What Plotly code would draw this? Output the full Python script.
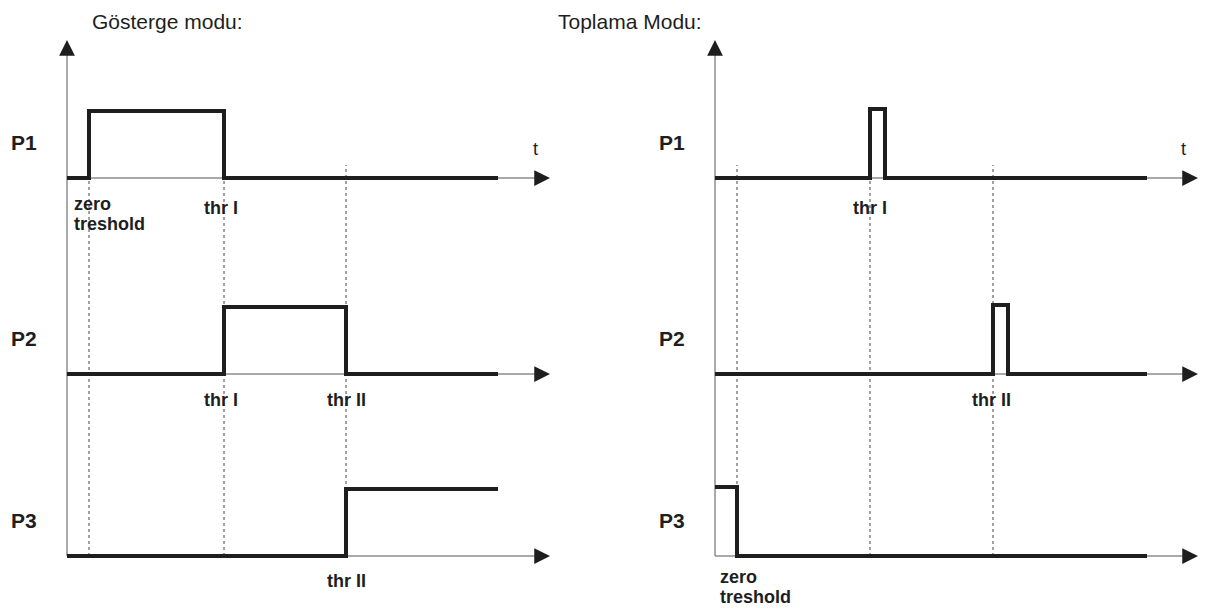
"""
Timing diagram: P1/P2/P3 outputs in two modes (Gösterge / Toplama)
"""
import plotly.graph_objects as go

# channel names, top to bottom
channels = ["P1", "P2", "P3"]

# Gösterge modu: step times (t) and logic levels
left_title = "Gösterge modu:"
left_thresholds = [2.2, 15.7, 27.9]  # zero treshold, thr I, thr II
left_times = {
    "P1": [0, 2.2, 15.7, 43.1],
    "P2": [0, 15.7, 27.9, 43.1],
    "P3": [0, 27.9, 43.1],
}
left_levels = {
    "P1": [0, 1, 0, 0],
    "P2": [0, 1, 0, 0],
    "P3": [0, 1, 1],
}

# Toplama Modu
right_title = "Toplama Modu:"
right_thresholds = [2.2, 15.5, 27.8]
right_times = {
    "P1": [0, 15.5, 17.0, 43.2],
    "P2": [0, 27.8, 29.3, 43.2],
    "P3": [0, 2.2, 43.2],
}
right_levels = {
    "P1": [0, 1, 0, 0],
    "P2": [0, 1, 0, 0],
    "P3": [1, 0, 0],
}

# labels under each channel: (channel, text, t)
left_marks = [
    ("P1", "thr I", 15.4),
    ("P2", "thr I", 15.4),
    ("P2", "thr II", 27.9),
    ("P3", "thr II", 27.9),
]
right_marks = [
    ("P1", "thr I", 15.5),
    ("P2", "thr II", 27.6),
]
zero_words = ["zero", "treshold"]

# drawing geometry (axis units: 1 unit = 10 px)
baseline = {"P1": 37.8, "P2": 18.2, "P3": 0.0}
mark_drop = {"P1": 1.75, "P2": 1.4, "P3": 1.3}
T_END_ARROW = 48.3
Y_TOP = 51.6
FONT = "Liberation Sans, Arial, sans-serif"
INK = "#1e1e1e"
AXIS_GREY = "#8c8c8c"


def add_panel(fig, xref, times, levels, thresholds, marks, amp, zero_label):
    xa = "x" if xref == "x" else "x2"

    # dotted threshold guides
    for th in thresholds:
        p1_edge = th in times["P1"][1:]
        top = baseline["P1"] if p1_edge else baseline["P1"] + 1.3
        fig.add_trace(
            go.Scatter(
                x=[th, th],
                y=[baseline["P3"], top],
                mode="lines",
                line=dict(color="#444444", width=1, dash="dot"),
                xaxis=xa,
                hoverinfo="skip",
            )
        )

    # axes (thin grey) and arrow heads
    fig.add_trace(
        go.Scatter(
            x=[0, 0],
            y=[baseline["P3"], Y_TOP - 1.2],
            mode="lines",
            line=dict(color=AXIS_GREY, width=1.5),
            xaxis=xa,
            hoverinfo="skip",
        )
    )
    fig.add_annotation(
        x=0, y=Y_TOP, xref=xref, yref="y", ax=0, ay=10, text="",
        showarrow=True, arrowhead=2, arrowsize=2.1, arrowwidth=1.5,
        arrowcolor=INK,
    )
    for ch in channels:
        fig.add_trace(
            go.Scatter(
                x=[0, T_END_ARROW - 1.2],
                y=[baseline[ch], baseline[ch]],
                mode="lines",
                line=dict(color=AXIS_GREY, width=1.5),
                xaxis=xa,
                hoverinfo="skip",
            )
        )
        fig.add_annotation(
            x=T_END_ARROW, y=baseline[ch], xref=xref, yref="y", ax=-10,
            ay=0, text="", showarrow=True, arrowhead=2, arrowsize=2.1,
            arrowwidth=1.5, arrowcolor=INK,
        )

    # signals
    for ch in channels:
        fig.add_trace(
            go.Scatter(
                x=times[ch],
                y=[baseline[ch] + amp * v for v in levels[ch]],
                mode="lines",
                line=dict(color=INK, width=4, shape="hv"),
                xaxis=xa,
                hoverinfo="skip",
            )
        )
        fig.add_annotation(
            x=-4.3, y=baseline[ch] + 3.6, xref=xref, yref="y",
            text=f"<b>{ch}</b>", showarrow=False,
            font=dict(family=FONT, size=21, color=INK),
        )

    for ch, text, t in marks:
        fig.add_annotation(
            x=t, y=baseline[ch] - mark_drop[ch], xref=xref, yref="y",
            text=f"<b>{text}</b>", showarrow=False, yanchor="top",
            font=dict(family=FONT, size=18, color=INK),
        )

    zch, zx, zdrop = zero_label
    for i, word in enumerate(zero_words):
        fig.add_annotation(
            x=zx, y=baseline[zch] - zdrop - 2.0 * i, xref=xref, yref="y",
            text=f"<b>{word}</b>", showarrow=False,
            xanchor="left", yanchor="top",
            font=dict(family=FONT, size=18, color=INK),
        )

    fig.add_annotation(
        x=46.8, y=baseline["P1"] + 2.9, xref=xref, yref="y", text="t",
        showarrow=False, font=dict(family=FONT, size=18, color=INK),
    )


fig = go.Figure()
add_panel(fig, "x", left_times, left_levels, left_thresholds, left_marks,
          6.7, ("P1", 0.5, 1.4))
add_panel(fig, "x2", right_times, right_levels, right_thresholds,
          right_marks, 6.9, ("P3", 0.3, 0.9))

for title, xpos in [(left_title, 90 / 1213), (right_title, 556 / 1213)]:
    fig.add_annotation(
        x=xpos, y=1 - 21 / 611, xref="paper", yref="paper", text=title,
        showarrow=False, xanchor="left", yanchor="middle",
        font=dict(family=FONT, size=21, color=INK),
    )

fig.update_layout(
    width=1213,
    height=611,
    margin=dict(l=0, r=0, t=0, b=0),
    paper_bgcolor="white",
    plot_bgcolor="white",
    showlegend=False,
    xaxis=dict(domain=[0, 0.5], range=[-6.7, 53.95], visible=False),
    xaxis2=dict(domain=[0.5, 1], range=[-10.85, 49.8], visible=False,
                anchor="y"),
    yaxis=dict(domain=[0, 1], range=[-5.5, 55.6], visible=False),
)

# drop the browser's default body margin so the figure sits at (0, 0)
fig.write_html(
    "out.html",
    config={"displayModeBar": False},
    post_script="document.body.style.margin = '0';",
)
